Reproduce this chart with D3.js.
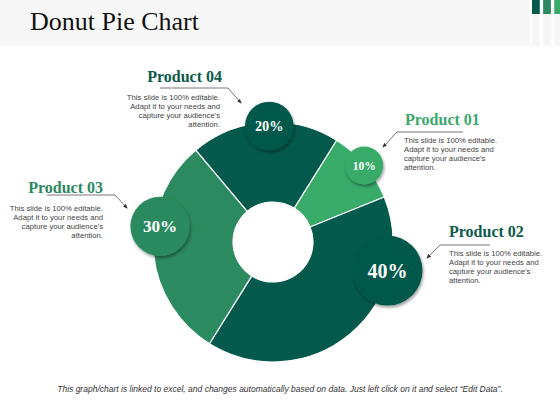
<!DOCTYPE html>
<html><head><meta charset="utf-8">
<script src="https://cdn.jsdelivr.net/npm/d3@7"></script>
<style>html,body{margin:0;padding:0;background:#fff;}svg{display:block;}</style>
</head><body>
<svg id="chart" width="560" height="420"></svg>
<script>
// ---- data ----
const products = ["Product 01", "Product 02", "Product 03", "Product 04"];
const values = [10, 40, 30, 20];
const pctLabels = ["10%", "40%", "30%", "20%"];
const descLines = ["This slide is 100% editable.", "Adapt it to your needs and", "capture your audience's", "attention."];
const title = "Donut Pie Chart";
const footer = "This graph/chart is linked to excel, and changes automatically based on data. Just left click on it and select \u201CEdit Data\u201D.";

// ---- layout / style ----
const sliceColors = ["#38ab69", "#03594b", "#2b8a5f", "#03594b"];
const titleColors = ["#3aa96b", "#0b5b4c", "#2a8a5e", "#0b5b4c"];
const bubbleFrac = [0.5, 0.25, 0.61, 0.53];
const bubbleDist = [119, 118, 114, 116];
const labelLayout = [
  {tx: 405, ty: 125, anchor: "start", bx: 404, by: 143, line: [[463,132],[397,132],[383,147]]},
  {tx: 449, ty: 237, anchor: "start", bx: 449, by: 256, line: [[490,245],[440,245],[427,258]]},
  {tx: 103, ty: 193, anchor: "end",   bx: 103, by: 211, line: [[47,195],[115,195],[127,208]]},
  {tx: 222, ty: 82,  anchor: "end",   bx: 220, by: 100, line: [[160,88],[228,88],[241,103]]}
];

const svg = d3.select("#chart");
const defs = svg.append("defs");
const f = defs.append("filter").attr("id", "shadow").attr("x", "-30%").attr("y", "-30%").attr("width", "160%").attr("height", "160%");
f.append("feDropShadow").attr("dx", 1).attr("dy", 2).attr("stdDeviation", 1.8).attr("flood-color", "#000").attr("flood-opacity", 0.4);
defs.append("marker").attr("id", "arrow").attr("viewBox", "0 0 10 10").attr("refX", 8).attr("refY", 5)
  .attr("markerWidth", 6).attr("markerHeight", 6).attr("orient", "auto")
  .append("path").attr("d", "M0,1 L10,5 L0,9 Z").attr("fill", "#333");

// header band
svg.append("rect").attr("x", 0).attr("y", 0).attr("width", 530).attr("height", 46).attr("fill", "#f7f7f7");
svg.append("text").attr("x", 30).attr("y", 30).attr("font-family", "Liberation Serif, serif")
  .attr("font-size", 26).attr("fill", "#111").text(title);
const barColors = ["#03594b", "#2b8a5f", "#38ab69"];
const barX = d3.scaleBand().domain(d3.range(3)).range([532, 562]).paddingInner(0.3);
barColors.forEach((c, i) => {
  svg.append("rect").attr("x", barX(i)).attr("y", 0).attr("width", barX.bandwidth()).attr("height", 46).attr("fill", "#f6f6f6");
  svg.append("rect").attr("x", barX(i)).attr("y", 0).attr("width", barX.bandwidth()).attr("height", 14).attr("fill", c);
});

// donut
const cx = 273, cy = 242, R = 120, r0 = 40;
const start = 32 * Math.PI / 180;
const pie = d3.pie().sort(null).startAngle(start).endAngle(start + 2 * Math.PI);
const arcs = pie(values);
const arc = d3.arc().innerRadius(r0).outerRadius(R);
const g = svg.append("g").attr("transform", `translate(${cx},${cy})`);
g.selectAll("path.slice").data(arcs).join("path").attr("class", "slice")
  .attr("d", arc).attr("fill", (d, i) => sliceColors[i]).attr("stroke", "#fff").attr("stroke-width", 1.2);

// bubbles
const rScale = d3.scaleLinear().domain([10, 40]).range([19, 35]);
const fScale = d3.scaleLinear().domain([10, 40]).range([11.5, 20]);
arcs.forEach((d, i) => {
  const a = d.startAngle + (d.endAngle - d.startAngle) * bubbleFrac[i];
  const x = bubbleDist[i] * Math.sin(a), y = -bubbleDist[i] * Math.cos(a);
  g.append("circle").attr("cx", x).attr("cy", y).attr("r", rScale(values[i]))
    .attr("fill", sliceColors[i]).attr("filter", "url(#shadow)");
  g.append("text").attr("x", x).attr("y", y).attr("dy", "0.35em").attr("text-anchor", "middle")
    .attr("font-family", "Liberation Serif, serif").attr("font-weight", "bold")
    .attr("font-size", fScale(values[i])).attr("fill", "#fff").text(pctLabels[i]);
});

// labels
const line = d3.line();
products.forEach((p, i) => {
  const L = labelLayout[i];
  svg.append("text").attr("x", L.tx).attr("y", L.ty).attr("text-anchor", L.anchor)
    .attr("font-family", "Liberation Serif, serif").attr("font-weight", "bold").attr("font-size", 16)
    .attr("fill", titleColors[i]).text(p);
  const t = svg.append("text").attr("x", L.bx).attr("y", L.by).attr("text-anchor", L.anchor)
    .attr("font-family", "Liberation Sans, Arial, sans-serif").attr("font-size", 7.7).attr("fill", "#444");
  descLines.forEach((s, k) => t.append("tspan").attr("x", L.bx).attr("dy", k === 0 ? 0 : 9).text(s));
  svg.append("path").attr("d", line(L.line)).attr("fill", "none").attr("stroke", "#555")
    .attr("stroke-width", 0.8).attr("marker-end", "url(#arrow)");
});

// footer
svg.append("text").attr("x", 280).attr("y", 392).attr("text-anchor", "middle")
  .attr("font-family", "Liberation Sans, Arial, sans-serif").attr("font-style", "italic")
  .attr("font-size", 8.5).attr("fill", "#333").text(footer);
</script>
</body></html>
